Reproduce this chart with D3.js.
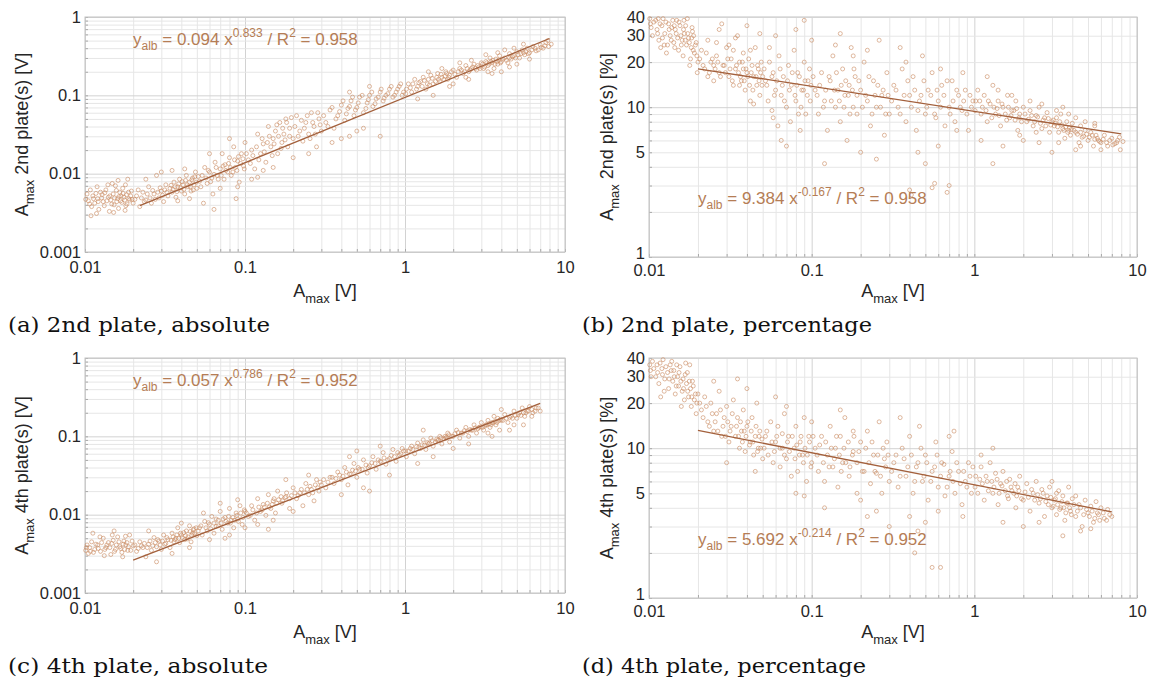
<!DOCTYPE html>
<html><head><meta charset="utf-8">
<script src="https://cdn.jsdelivr.net/npm/d3@7"></script>
<style>body{margin:0;background:#fff} svg{display:block} text{white-space:pre}</style>
</head><body>
<svg id="chart" width="1149" height="689"></svg>
<script>
// ---- tick values / labels ----
const xTicks = [0.01, 0.1, 1, 10];
const xTickLabels = ["0.01", "0.1", "1", "10"];
const yTicksAbs = [0.001, 0.01, 0.1, 1];
const yTickLabelsAbs = ["0.001", "0.01", "0.1", "1"];
const yTicksPct = [1, 5, 10, 20, 30, 40];
const yTickLabelsPct = ["1", "5", "10", "20", "30", "40"];

// ---- panel texts ----
const captions = ["(a) 2nd plate, absolute", "(b) 2nd plate, percentage", "(c) 4th plate, absolute", "(d) 4th plate, percentage"];
const yTitles = [" 2nd plate(s) [V]", " 2nd plate(s) [%]", " 4th plate(s) [V]", " 4th plate(s) [%]"];

// ---- fits (coefficient, exponent, R2, drawn x-range) ----
const fitA = [0.094, 0.833, 0.958, 0.022, 8];
const fitB = [9.384, -0.167, 0.958, 0.02, 8];
const fitC = [0.057, 0.786, 0.952, 0.02, 7];
const fitD = [5.692, -0.214, 0.952, 0.02, 7];

// ---- scatter points [Amax, value] ----
const pointsA = [
[0.0105,0.0045],[0.011,0.0038],[0.0112,0.0052],[0.0115,0.0042],[0.012,0.0048],[0.0122,0.0035],[0.0125,0.0058],[0.013,0.0044],[0.0132,0.0039],[0.0135,0.0062],[0.014,0.005],[0.0142,0.0033],[0.0145,0.0046],[0.015,0.0055],[0.0152,0.004],[0.0155,0.007],[0.016,0.0048],[0.0162,0.0036],[0.0165,0.0058],[0.017,0.0043],[0.0172,0.0065],[0.0175,0.005],[0.018,0.0039],[0.0182,0.0054],[0.0185,0.0085],[0.019,0.0046],[0.0195,0.006],[0.02,0.0042],[0.0108,0.0062],[0.0118,0.0031],[0.0128,0.0054],[0.0148,0.0075],[0.0158,0.0044],[0.0168,0.0052],[0.0178,0.0034],[0.0188,0.0048],
[0.0101,0.0047],[0.0103,0.0055],[0.0107,0.0041],[0.0113,0.0048],[0.0117,0.0056],[0.0121,0.0044],[0.0127,0.0049],[0.0133,0.0057],[0.0137,0.0045],[0.0143,0.0052],[0.0147,0.0041],[0.0153,0.0049],[0.0157,0.0061],[0.0163,0.0051],[0.0167,0.0045],[0.0173,0.0056],[0.0177,0.0046],[0.0183,0.0041],[0.0187,0.0058],[0.0193,0.0052],[0.0197,0.0047],[0.0119,0.0068],[0.0139,0.0072],[0.0161,0.0082],[0.0179,0.0072],[0.0109,0.0029],[0.0151,0.0032],
[0.021,0.0052],[0.022,0.0038],[0.023,0.0058],[0.024,0.0046],[0.025,0.0068],[0.026,0.0042],[0.027,0.0055],[0.028,0.0095],[0.029,0.0049],[0.03,0.006],[0.031,0.0044],[0.032,0.0072],[0.033,0.0052],[0.034,0.0065],[0.035,0.0058],[0.036,0.0078],[0.037,0.005],[0.038,0.0068],[0.039,0.0085],[0.04,0.006],[0.041,0.0072],[0.042,0.0055],[0.043,0.0095],[0.044,0.0068],[0.045,0.0078],[0.046,0.006],[0.047,0.0088],[0.048,0.0072],[0.049,0.0105],[0.05,0.0065],[0.024,0.0085],[0.03,0.0105],[0.035,0.011],[0.045,0.0048],
[0.0205,0.0047],[0.0215,0.0062],[0.0225,0.0049],[0.0235,0.0044],[0.0245,0.0055],[0.0255,0.0049],[0.0265,0.0061],[0.0275,0.0047],[0.0285,0.0058],[0.0295,0.0066],[0.0305,0.0053],[0.0315,0.0062],[0.0325,0.0058],[0.0345,0.0071],[0.0355,0.0063],[0.0365,0.0068],[0.0375,0.0059],[0.0385,0.0074],[0.0395,0.0066],[0.0405,0.0079],[0.0415,0.0063],[0.0425,0.0082],[0.0435,0.0072],[0.0455,0.0068],[0.0465,0.0083],[0.0475,0.0062],[0.0485,0.0091],[0.0495,0.0078],[0.038,0.0045],[0.042,0.0115],
[0.052,0.008],[0.054,0.0095],[0.055,0.0042],[0.056,0.012],[0.058,0.0075],[0.06,0.0105],[0.062,0.0088],[0.063,0.0055],[0.065,0.014],[0.067,0.0095],[0.07,0.0115],[0.072,0.018],[0.074,0.0085],[0.075,0.013],[0.078,0.0105],[0.08,0.016],[0.082,0.0095],[0.085,0.022],[0.087,0.012],[0.09,0.0145],[0.092,0.0078],[0.095,0.018],[0.098,0.0125],[0.1,0.025],[0.06,0.018],[0.07,0.0065],[0.08,0.028],[0.09,0.0068],
[0.051,0.0092],[0.053,0.0068],[0.057,0.0088],[0.059,0.011],[0.061,0.0079],[0.064,0.0098],[0.066,0.012],[0.068,0.0085],[0.071,0.0095],[0.073,0.0125],[0.076,0.011],[0.079,0.0135],[0.081,0.012],[0.084,0.0105],[0.086,0.015],[0.089,0.011],[0.091,0.0165],[0.094,0.0135],[0.097,0.0155],[0.099,0.0115],[0.064,0.0035],[0.088,0.0048],
[0.105,0.015],[0.11,0.02],[0.115,0.0115],[0.12,0.032],[0.125,0.018],[0.13,0.024],[0.135,0.014],[0.14,0.04],[0.145,0.022],[0.15,0.028],[0.155,0.035],[0.16,0.018],[0.165,0.045],[0.17,0.025],[0.175,0.032],[0.18,0.05],[0.185,0.022],[0.19,0.038],[0.2,0.028],[0.21,0.055],[0.22,0.035],[0.23,0.026],[0.24,0.045],[0.25,0.032],[0.26,0.06],[0.27,0.04],[0.28,0.022],[0.29,0.05],[0.3,0.035],[0.12,0.009],[0.15,0.012],[0.2,0.016],[0.25,0.018],
[0.102,0.018],[0.108,0.0135],[0.112,0.017],[0.118,0.022],[0.122,0.015],[0.128,0.028],[0.132,0.019],[0.138,0.025],[0.142,0.03],[0.148,0.017],[0.152,0.024],[0.158,0.042],[0.162,0.03],[0.168,0.021],[0.172,0.038],[0.178,0.027],[0.182,0.045],[0.19,0.03],[0.195,0.052],[0.205,0.04],[0.215,0.03],[0.225,0.048],[0.235,0.038],[0.245,0.055],[0.255,0.028],[0.265,0.045],[0.275,0.032],[0.285,0.06],[0.295,0.042],[0.11,0.0085],[0.13,0.011],
[0.32,0.045],[0.34,0.065],[0.36,0.038],[0.38,0.055],[0.4,0.075],[0.42,0.048],[0.44,0.068],[0.46,0.085],[0.48,0.055],[0.5,0.07],[0.52,0.095],[0.55,0.06],[0.58,0.08],[0.6,0.1],[0.63,0.072],[0.66,0.09],[0.7,0.11],[0.73,0.085],[0.76,0.1],[0.8,0.12],[0.84,0.095],[0.88,0.11],[0.92,0.13],[0.96,0.1],[0.4,0.028],[0.5,0.035],[0.45,0.11],[0.6,0.13],[0.7,0.03],
[0.31,0.055],[0.33,0.04],[0.35,0.07],[0.37,0.05],[0.39,0.062],[0.41,0.085],[0.43,0.058],[0.45,0.072],[0.47,0.095],[0.49,0.065],[0.51,0.08],[0.54,0.1],[0.57,0.068],[0.59,0.088],[0.62,0.11],[0.65,0.078],[0.68,0.095],[0.71,0.12],[0.74,0.092],[0.78,0.105],[0.82,0.13],[0.86,0.1],[0.9,0.12],[0.94,0.14],[0.98,0.11],[0.35,0.025],[0.45,0.03],[0.55,0.038],
[1.02,0.12],[1.05,0.14],[1.1,0.11],[1.15,0.16],[1.2,0.13],[1.25,0.15],[1.3,0.17],[1.35,0.12],[1.4,0.16],[1.45,0.18],[1.5,0.14],[1.6,0.19],[1.65,0.15],[1.7,0.17],[1.8,0.2],[1.85,0.16],[1.9,0.18],[2.0,0.21],[2.1,0.17],[2.2,0.22],[2.3,0.19],[2.4,0.24],[2.5,0.2],[2.6,0.22],[2.7,0.25],[2.8,0.21],[2.9,0.23],[3.0,0.26],[1.2,0.09],[1.5,0.1],[2.0,0.14],[2.5,0.16],
[1.01,0.105],[1.08,0.125],[1.12,0.14],[1.18,0.12],[1.22,0.145],[1.28,0.13],[1.32,0.155],[1.38,0.14],[1.42,0.135],[1.48,0.165],[1.55,0.15],[1.58,0.17],[1.62,0.16],[1.68,0.185],[1.75,0.16],[1.78,0.175],[1.82,0.19],[1.88,0.17],[1.95,0.2],[2.05,0.185],[2.15,0.2],[2.25,0.21],[2.35,0.2],[2.45,0.22],[2.55,0.21],[2.65,0.23],[2.75,0.22],[2.85,0.24],[2.95,0.22],[1.4,0.2],[1.7,0.22],[2.2,0.26],[2.6,0.28],[1.9,0.13],[2.4,0.17],
[3.1,0.22],[3.2,0.27],[3.3,0.24],[3.4,0.3],[3.5,0.26],[3.6,0.22],[3.7,0.29],[3.8,0.25],[3.9,0.32],[4.0,0.27],[4.2,0.3],[4.4,0.26],[4.5,0.34],[4.6,0.29],[4.8,0.32],[5.0,0.36],[5.2,0.3],[5.4,0.38],[5.6,0.33],[5.8,0.4],[6.0,0.35],[6.3,0.42],[6.6,0.37],[7.0,0.44],[7.3,0.4],[7.6,0.47],[7.9,0.42],[8.2,0.45],[3.5,0.19],[4.0,0.2],[5.0,0.25],
[3.05,0.25],[3.15,0.23],[3.25,0.26],[3.35,0.25],[3.45,0.27],[3.55,0.28],[3.65,0.25],[3.75,0.27],[3.85,0.28],[3.95,0.26],[4.1,0.29],[4.3,0.28],[4.5,0.3],[4.7,0.31],[4.9,0.3],[5.1,0.33],[5.3,0.34],[5.5,0.35],[5.7,0.36],[5.9,0.34],[6.2,0.38],[6.5,0.4],[6.8,0.38],[7.1,0.41],[7.5,0.43],[3.2,0.33],[3.8,0.35],[4.2,0.38],[4.8,0.4],[5.5,0.45],[3.3,0.2],[4.5,0.23],[6.0,0.29],[7.8,0.5]
];
const pointsB = [
[0.0102,36],[0.0105,30],[0.011,38],[0.0112,33],[0.0115,28],[0.012,35],[0.0122,39],[0.0125,31],[0.013,26],[0.0132,36],[0.0135,30],[0.014,38],[0.0142,27],[0.0145,33],[0.015,29],[0.0152,24],[0.0155,35],[0.016,28],[0.0162,22],[0.0165,31],[0.017,26],[0.0172,39],[0.0175,29],[0.018,21],[0.0182,25],[0.0185,32],[0.019,23],[0.0195,27],[0.02,20],[0.0118,25],[0.0128,23],[0.0138,34],[0.0148,38],[0.0158,26],[0.0168,35],[0.0178,19],[0.0188,30],[0.0198,17],
[0.0101,39],[0.0103,34],[0.0107,37],[0.0113,31],[0.0117,36],[0.0121,29],[0.0127,37],[0.0133,33],[0.0137,28],[0.0143,35],[0.0147,31],[0.0153,37],[0.0157,30],[0.0163,33],[0.0167,28],[0.0173,31],[0.0177,27],[0.0183,29],[0.0187,24],[0.0193,26],[0.0197,22],[0.0114,39],[0.0124,26],[0.0144,25],[0.0164,38],[0.0184,34],
[0.021,24],[0.022,18],[0.023,28],[0.024,20],[0.025,15],[0.026,22],[0.027,17],[0.028,36],[0.029,19],[0.03,25],[0.031,16],[0.032,21],[0.033,14],[0.034,18],[0.035,30],[0.036,20],[0.037,15],[0.038,23],[0.039,13],[0.04,17],[0.041,21],[0.042,11],[0.043,19],[0.044,16],[0.045,25],[0.046,14],[0.047,18],[0.048,12],[0.049,20],[0.05,16],[0.023,16],[0.027,33],[0.031,26],[0.036,14],[0.04,35],[0.044,10.5],[0.048,31],[0.025,19],[0.033,24],[0.038,18],
[0.0205,21],[0.0215,19],[0.0225,23],[0.0235,17],[0.0245,21],[0.0255,18],[0.0265,20],[0.0275,16],[0.0285,19],[0.0295,17],[0.0305,21],[0.0315,18],[0.0325,15],[0.0345,19],[0.0355,17],[0.0365,16],[0.0375,20],[0.0385,15],[0.0395,18],[0.0405,16],[0.0415,14],[0.0425,17],[0.0435,13],[0.0455,16],[0.0465,19],[0.0475,15],[0.0485,17],[0.0495,14],[0.026,27],[0.034,29],[0.042,24],
[0.052,15],[0.054,11],[0.055,20],[0.057,9.5],[0.058,17],[0.06,13],[0.062,7.5],[0.063,22],[0.065,12],[0.067,16],[0.07,10],[0.072,19],[0.074,8],[0.075,14],[0.078,24],[0.08,11],[0.082,17],[0.085,7],[0.087,13],[0.09,20],[0.092,9],[0.095,15],[0.098,11],[0.1,28],[0.06,30],[0.07,5.5],[0.08,33],[0.09,38],[0.055,25],[0.065,6],
[0.051,18],[0.053,14],[0.057,16],[0.059,12],[0.061,15],[0.064,18],[0.066,14],[0.068,11],[0.071,15],[0.073,13],[0.076,17],[0.079,12],[0.081,14],[0.084,16],[0.086,10],[0.089,13],[0.091,15],[0.094,12],[0.097,18],[0.099,14],[0.058,8.5],[0.083,9],
[0.105,13],[0.11,9],[0.115,17],[0.12,11],[0.125,7],[0.13,15],[0.135,22],[0.14,10],[0.145,13],[0.15,8],[0.155,18],[0.16,12],[0.165,6],[0.17,14],[0.175,25],[0.18,10],[0.185,16],[0.19,9],[0.2,13],[0.21,20],[0.22,11],[0.23,7.5],[0.24,15],[0.25,10],[0.26,28],[0.27,12],[0.28,6.5],[0.29,17],[0.3,9],[0.12,4.2],[0.15,31],[0.2,5],[0.25,4.5],[0.18,22],
[0.102,16],[0.108,12],[0.112,14],[0.118,10],[0.122,13],[0.128,16],[0.132,11],[0.138,13],[0.142,17],[0.148,11],[0.152,14],[0.158,10],[0.162,15],[0.168,12],[0.172,9],[0.178,13],[0.182,18],[0.19,12],[0.195,15],[0.205,10],[0.215,12],[0.225,16],[0.235,9],[0.245,12],[0.255,14],[0.265,10],[0.275,13],[0.285,9],[0.295,12],[0.14,26],[0.22,24],
[0.32,14],[0.34,10],[0.36,18],[0.38,8],[0.4,12],[0.42,16],[0.44,7],[0.46,11],[0.48,22],[0.5,9],[0.52,13],[0.55,17],[0.58,8.5],[0.6,11],[0.63,14],[0.66,7.5],[0.7,10],[0.73,15],[0.76,8],[0.8,12],[0.84,9.5],[0.88,13],[0.92,7],[0.96,10],[0.4,2.8],[0.41,2.6],[0.55,2.9],[0.57,3.1],[0.68,2.7],[0.7,3],[0.35,25],[0.45,5],[0.6,5.5],[0.85,17],[0.5,4.2],
[0.31,11],[0.33,13],[0.35,9],[0.37,12],[0.39,15],[0.41,10],[0.43,13],[0.45,9.5],[0.47,12],[0.49,15],[0.51,10],[0.54,12],[0.57,9],[0.59,13],[0.62,10],[0.65,12],[0.68,15],[0.71,9],[0.74,11],[0.78,13],[0.82,10],[0.86,11],[0.9,9],[0.94,12],[0.98,11],[0.38,20],[0.62,18],[0.78,7],
[1.02,11],[1.05,13],[1.1,9],[1.15,12],[1.2,8],[1.25,10.5],[1.3,14],[1.35,9],[1.4,11],[1.45,7.5],[1.5,10],[1.6,12],[1.65,8.5],[1.7,9.5],[1.8,11],[1.85,7],[1.9,9],[2.0,10],[2.1,8],[2.2,9.5],[2.3,7.5],[2.4,8.8],[2.5,10],[2.6,7.2],[2.7,8.5],[2.8,9.2],[2.9,6.8],[3.0,8],[1.3,4.2],[1.2,16],[1.1,6],[2.0,6],[1.5,5.5],[2.5,5.8],
[1.01,9.5],[1.08,11],[1.12,10],[1.18,9.5],[1.22,11],[1.28,8.5],[1.32,10],[1.38,9.8],[1.42,8.8],[1.48,10.5],[1.55,9],[1.58,8.2],[1.62,10],[1.68,8.8],[1.75,9.5],[1.78,8.2],[1.82,9.8],[1.88,8.5],[1.95,8],[2.05,9],[2.15,8.3],[2.25,8.8],[2.35,8],[2.45,8.6],[2.55,7.8],[2.65,8.2],[2.75,7.5],[2.85,8.4],[2.95,7.6],[1.4,13],[1.7,12],[2.2,11],[2.6,10.5],[1.9,6.5],[2.4,6.8],
[3.1,7.5],[3.2,8.5],[3.3,6.8],[3.4,9],[3.5,7.2],[3.6,6.2],[3.7,8],[3.8,7],[3.9,6.5],[4.0,7.8],[4.2,6.8],[4.4,5.8],[4.5,7.5],[4.6,6.3],[4.8,7],[5.0,6],[5.2,6.8],[5.4,5.5],[5.6,6.5],[5.8,6],[6.0,5.8],[6.3,6.5],[6.6,5.5],[7.0,6.2],[7.3,5.7],[7.6,6],[7.9,5.2],[8.2,5.9],[3.5,10],[4.2,5.2],[5.5,7.5],[3.0,5],
[3.05,8.2],[3.15,7.8],[3.25,7.4],[3.35,8],[3.45,7.6],[3.55,7],[3.65,7.4],[3.75,6.8],[3.85,7.3],[3.95,7.1],[4.1,7],[4.3,6.6],[4.5,6.8],[4.7,6.4],[4.9,6.6],[5.1,6.3],[5.3,6.5],[5.5,6.1],[5.7,6.2],[5.9,5.9],[6.2,6.1],[6.5,5.8],[6.8,6],[7.1,5.6],[7.5,5.8],[3.2,9.5],[3.8,9],[4.2,8.5],[4.8,8],[5.5,7.8],[3.3,5.8],[4.5,5.5],[6.0,5.2],[7.8,6.3]
];
const pointsC = [
[0.0102,0.0038],[0.0105,0.0032],[0.011,0.0045],[0.0115,0.0036],[0.012,0.0041],[0.0125,0.0034],[0.013,0.005],[0.0135,0.0038],[0.014,0.0044],[0.0145,0.0031],[0.015,0.0047],[0.0155,0.0036],[0.016,0.0052],[0.0165,0.0039],[0.017,0.0033],[0.0175,0.0046],[0.018,0.0041],[0.0185,0.0035],[0.019,0.0055],[0.02,0.004],[0.0112,0.0058],[0.0132,0.003],[0.0152,0.0062],[0.0172,0.0029],[0.0108,0.0034],
[0.0101,0.0035],[0.0103,0.0041],[0.0107,0.0038],[0.0113,0.0033],[0.0117,0.0042],[0.0121,0.0037],[0.0127,0.0044],[0.0133,0.0036],[0.0137,0.0041],[0.0143,0.0038],[0.0147,0.0043],[0.0153,0.0034],[0.0157,0.0041],[0.0163,0.0045],[0.0167,0.0037],[0.0173,0.0042],[0.0177,0.0036],[0.0183,0.0044],[0.0187,0.0039],[0.0193,0.0035],[0.0197,0.0046],[0.0124,0.0052],[0.0148,0.0055],[0.0179,0.0053],
[0.021,0.0034],[0.022,0.0045],[0.023,0.0038],[0.024,0.0029],[0.025,0.0042],[0.026,0.0035],[0.027,0.0051],[0.028,0.0039],[0.029,0.0046],[0.03,0.0036],[0.031,0.0055],[0.032,0.0043],[0.033,0.0048],[0.034,0.0038],[0.035,0.0058],[0.036,0.0045],[0.037,0.005],[0.038,0.0068],[0.039,0.0044],[0.04,0.0055],[0.042,0.0048],[0.043,0.0062],[0.044,0.0052],[0.045,0.0072],[0.046,0.0045],[0.047,0.0058],[0.048,0.0066],[0.05,0.0054],[0.025,0.0062],[0.035,0.0032],[0.04,0.0078],[0.028,0.0025],[0.045,0.0038],
[0.0205,0.0041],[0.0215,0.0037],[0.0225,0.004],[0.0235,0.0043],[0.0245,0.0038],[0.0255,0.0046],[0.0265,0.004],[0.0275,0.0044],[0.0285,0.0048],[0.0295,0.0041],[0.0305,0.0046],[0.0315,0.0042],[0.0325,0.0051],[0.0345,0.0047],[0.0355,0.0052],[0.0365,0.0048],[0.0375,0.0055],[0.0385,0.005],[0.0395,0.0058],[0.0405,0.0051],[0.0415,0.0059],[0.0425,0.0054],[0.0435,0.0049],[0.0455,0.0061],[0.0465,0.0055],[0.0475,0.0064],[0.0485,0.0057],[0.0495,0.0068],
[0.052,0.0068],[0.054,0.0055],[0.056,0.0082],[0.058,0.0062],[0.06,0.0075],[0.062,0.0095],[0.064,0.0058],[0.066,0.0088],[0.068,0.0072],[0.07,0.011],[0.072,0.0065],[0.075,0.0092],[0.078,0.0078],[0.08,0.012],[0.082,0.0085],[0.085,0.0068],[0.088,0.0105],[0.09,0.0088],[0.093,0.013],[0.096,0.0075],[0.1,0.011],[0.06,0.0048],[0.07,0.014],[0.08,0.0055],[0.09,0.0155],[0.055,0.0105],[0.075,0.005],[0.1,0.0068],
[0.051,0.0062],[0.053,0.0072],[0.057,0.0068],[0.059,0.0079],[0.061,0.0066],[0.064,0.0078],[0.066,0.0071],[0.068,0.0085],[0.071,0.0078],[0.073,0.0088],[0.076,0.0082],[0.079,0.0095],[0.081,0.0078],[0.084,0.0092],[0.086,0.0085],[0.089,0.0098],[0.091,0.0082],[0.094,0.0105],[0.097,0.0092],[0.099,0.0115],
[0.105,0.0095],[0.11,0.013],[0.115,0.0085],[0.12,0.016],[0.125,0.011],[0.13,0.0135],[0.135,0.0098],[0.14,0.018],[0.145,0.012],[0.15,0.015],[0.155,0.0105],[0.16,0.02],[0.17,0.014],[0.18,0.017],[0.19,0.012],[0.2,0.022],[0.21,0.016],[0.22,0.019],[0.23,0.013],[0.24,0.025],[0.25,0.018],[0.26,0.021],[0.27,0.015],[0.28,0.028],[0.29,0.02],[0.3,0.024],[0.12,0.0075],[0.15,0.0085],[0.2,0.011],[0.18,0.028],[0.25,0.032],[0.14,0.0065],
[0.102,0.0105],[0.108,0.0098],[0.112,0.0115],[0.118,0.0105],[0.122,0.0125],[0.128,0.0115],[0.132,0.0125],[0.138,0.014],[0.142,0.0125],[0.148,0.0135],[0.152,0.016],[0.158,0.014],[0.162,0.0155],[0.168,0.017],[0.172,0.015],[0.178,0.0165],[0.182,0.019],[0.19,0.016],[0.195,0.0175],[0.205,0.019],[0.215,0.0175],[0.225,0.021],[0.235,0.019],[0.245,0.021],[0.255,0.023],[0.265,0.019],[0.275,0.024],[0.285,0.022],[0.295,0.026],
[0.32,0.022],[0.34,0.03],[0.36,0.025],[0.38,0.035],[0.4,0.028],[0.42,0.04],[0.44,0.024],[0.46,0.033],[0.48,0.045],[0.5,0.03],[0.52,0.038],[0.55,0.05],[0.58,0.034],[0.6,0.042],[0.63,0.055],[0.66,0.038],[0.7,0.048],[0.73,0.062],[0.76,0.044],[0.8,0.052],[0.84,0.068],[0.88,0.048],[0.92,0.058],[0.96,0.07],[0.4,0.018],[0.5,0.065],[0.6,0.02],[0.7,0.075],[0.45,0.055],[0.55,0.022],[0.8,0.032],
[0.31,0.028],[0.33,0.026],[0.35,0.03],[0.37,0.029],[0.39,0.032],[0.41,0.031],[0.43,0.035],[0.45,0.033],[0.47,0.037],[0.49,0.036],[0.51,0.04],[0.54,0.038],[0.57,0.043],[0.59,0.04],[0.62,0.046],[0.65,0.045],[0.68,0.05],[0.71,0.047],[0.74,0.053],[0.78,0.05],[0.82,0.057],[0.86,0.055],[0.9,0.062],[0.94,0.06],[0.98,0.065],
[1.02,0.055],[1.05,0.065],[1.1,0.075],[1.15,0.06],[1.2,0.082],[1.25,0.07],[1.3,0.09],[1.35,0.068],[1.4,0.08],[1.45,0.095],[1.5,0.075],[1.6,0.088],[1.65,0.1],[1.7,0.08],[1.8,0.095],[1.85,0.11],[1.9,0.085],[2.0,0.1],[2.1,0.12],[2.2,0.095],[2.3,0.11],[2.4,0.13],[2.5,0.1],[2.6,0.12],[2.7,0.14],[2.8,0.11],[2.9,0.13],[3.0,0.15],[1.2,0.045],[1.5,0.055],[2.0,0.07],[1.3,0.12],[2.5,0.08],
[1.01,0.065],[1.08,0.07],[1.12,0.068],[1.18,0.074],[1.22,0.072],[1.28,0.078],[1.32,0.077],[1.38,0.083],[1.42,0.082],[1.48,0.088],[1.55,0.085],[1.58,0.092],[1.62,0.09],[1.68,0.096],[1.75,0.093],[1.78,0.1],[1.82,0.098],[1.88,0.105],[1.95,0.1],[2.05,0.108],[2.15,0.112],[2.25,0.11],[2.35,0.118],[2.45,0.115],[2.55,0.122],[2.65,0.12],[2.75,0.128],[2.85,0.125],[2.95,0.132],
[3.1,0.12],[3.2,0.14],[3.3,0.16],[3.4,0.13],[3.5,0.15],[3.6,0.18],[3.7,0.14],[3.8,0.17],[3.9,0.12],[4.0,0.16],[4.2,0.19],[4.4,0.15],[4.6,0.18],[4.8,0.21],[5.0,0.17],[5.2,0.2],[5.4,0.23],[5.6,0.18],[5.8,0.21],[6.0,0.24],[6.3,0.2],[6.6,0.23],[7.0,0.21],[3.5,0.1],[4.5,0.12],[5.5,0.14],[4.0,0.22],
[3.05,0.13],[3.15,0.135],[3.25,0.14],[3.35,0.145],[3.45,0.14],[3.55,0.148],[3.65,0.155],[3.75,0.15],[3.85,0.158],[3.95,0.165],[4.1,0.16],[4.3,0.17],[4.5,0.175],[4.7,0.17],[4.9,0.185],[5.1,0.19],[5.3,0.185],[5.5,0.2],[5.7,0.2],[5.9,0.21],[6.2,0.22],[6.5,0.21],[6.8,0.23],[3.3,0.11],[4.8,0.14],[6.2,0.18]
];
const pointsD = [
[0.0102,33],[0.0105,38],[0.011,30],[0.0112,36],[0.0115,27],[0.012,34],[0.0122,39],[0.0125,29],[0.013,32],[0.0132,25],[0.0135,36],[0.014,28],[0.0142,33],[0.0145,23],[0.015,30],[0.0152,26],[0.0155,35],[0.016,24],[0.0162,29],[0.0165,21],[0.017,27],[0.0172,32],[0.0175,22],[0.018,25],[0.0182,19],[0.0185,28],[0.019,21],[0.0195,17],[0.02,23],[0.0118,22],[0.0138,38],[0.0158,19],[0.0178,36],
[0.0101,36],[0.0103,30],[0.0107,34],[0.0113,32],[0.0117,37],[0.0121,31],[0.0127,35],[0.0133,29],[0.0137,33],[0.0143,30],[0.0147,26],[0.0153,32],[0.0157,28],[0.0163,25],[0.0167,31],[0.0173,24],[0.0177,28],[0.0183,22],[0.0187,26],[0.0193,23],[0.0197,20],[0.0124,24],[0.0148,36],[0.0168,37],
[0.021,18],[0.022,22],[0.023,15],[0.024,20],[0.025,13],[0.026,17],[0.027,24],[0.028,12],[0.029,16],[0.03,19],[0.031,11],[0.032,14],[0.033,21],[0.034,12],[0.035,16],[0.036,10],[0.037,13],[0.038,18],[0.039,9.5],[0.04,14],[0.042,11],[0.043,16],[0.044,9],[0.045,12],[0.046,20],[0.047,10],[0.048,13],[0.05,8.5],[0.025,28],[0.03,8],[0.04,25],[0.045,7],[0.035,29],
[0.0205,20],[0.0215,16],[0.0225,19],[0.0235,14],[0.0245,17],[0.0255,15],[0.0265,13],[0.0275,18],[0.0285,14],[0.0295,12],[0.0305,15],[0.0315,13],[0.0325,17],[0.0345,14],[0.0355,12],[0.0365,15],[0.0375,11],[0.0385,13],[0.0395,12],[0.0405,15],[0.0415,10.5],[0.0425,13],[0.0435,11],[0.0455,14],[0.0465,9.5],[0.0475,12],[0.0485,10],[0.0495,11.5],
[0.052,12],[0.054,9],[0.056,15],[0.058,8],[0.06,11],[0.062,14],[0.064,7.5],[0.066,10],[0.068,17],[0.07,8.5],[0.072,12],[0.075,6.5],[0.078,10],[0.08,14],[0.082,7],[0.085,11],[0.088,9],[0.09,16],[0.093,6],[0.096,12],[0.1,8],[0.06,22],[0.08,5],[0.07,19],[0.09,4.8],[0.1,15],
[0.051,10],[0.053,13],[0.057,11],[0.059,9.5],[0.061,12],[0.064,10],[0.066,12.5],[0.068,9],[0.071,11],[0.073,9.5],[0.076,12],[0.079,8.5],[0.081,10.5],[0.084,9],[0.086,12],[0.089,8],[0.091,10],[0.094,9],[0.097,11],[0.099,7.5],
[0.105,10],[0.11,7],[0.115,12],[0.12,6],[0.125,9],[0.13,14],[0.135,7.5],[0.14,10],[0.145,5.5],[0.15,12],[0.155,8],[0.16,16],[0.17,6.5],[0.18,9.5],[0.19,5],[0.2,11],[0.21,7],[0.22,13],[0.23,5.8],[0.24,9],[0.25,6.8],[0.26,15],[0.27,5],[0.28,8.5],[0.29,11],[0.3,6],[0.12,4],[0.15,18],[0.2,4.5],[0.25,3.8],[0.18,13],[0.22,3.5],
[0.102,12],[0.108,9],[0.112,10.5],[0.118,8],[0.122,11],[0.128,7.5],[0.132,10],[0.138,8.5],[0.142,12],[0.148,9],[0.152,7],[0.158,10],[0.162,8],[0.168,11],[0.172,7.5],[0.178,9],[0.182,12],[0.19,8],[0.195,9.5],[0.205,7],[0.215,10],[0.225,8],[0.235,11],[0.245,7],[0.255,9],[0.265,6.5],[0.275,10],[0.285,7.5],[0.295,9],
[0.32,8],[0.34,5.5],[0.36,10],[0.38,6.5],[0.4,12],[0.42,5],[0.44,7.5],[0.46,14],[0.48,6],[0.5,9],[0.52,4.5],[0.55,7],[0.58,11],[0.6,5.5],[0.63,8],[0.66,4.8],[0.7,6.5],[0.73,9.5],[0.76,5],[0.8,7],[0.84,4.2],[0.88,6],[0.92,8],[0.96,5],[0.4,3.5],[0.5,3.2],[0.6,3.8],[0.45,2.8],[0.55,1.6],[0.35,16],[0.7,12],[0.85,3.5],[0.3,3],
[0.31,7],[0.33,9],[0.35,6.5],[0.37,8.5],[0.39,7.5],[0.41,9],[0.43,6],[0.45,8],[0.47,10],[0.49,6.5],[0.51,8],[0.54,6],[0.57,7.5],[0.59,9],[0.62,6.5],[0.65,7.8],[0.68,5.5],[0.71,7],[0.74,6],[0.78,8],[0.82,5.8],[0.86,7],[0.9,5.5],[0.94,6.5],[0.98,7.5],[0.62,1.6],[0.43,2],[0.75,13],
[1.02,6.5],[1.05,5],[1.1,7.5],[1.15,4.5],[1.2,6],[1.25,8],[1.3,5],[1.35,6.8],[1.4,4.2],[1.45,5.8],[1.5,7],[1.6,4.8],[1.65,6.2],[1.7,5.2],[1.8,4],[1.85,5.5],[1.9,6.5],[2.0,4.5],[2.1,5.8],[2.2,3.8],[2.3,5],[2.4,6],[2.5,4.3],[2.6,5.3],[2.7,3.5],[2.8,4.8],[2.9,5.5],[3.0,4],[1.3,10],[1.5,3.2],[2.0,3],[2.5,3.2],[1.1,9],
[1.01,5.5],[1.08,6.2],[1.12,5.8],[1.18,6.5],[1.22,5.2],[1.28,6],[1.32,5.5],[1.38,6.2],[1.42,5],[1.48,5.6],[1.55,5.2],[1.58,6],[1.62,4.6],[1.68,5.5],[1.75,5],[1.78,5.8],[1.82,4.8],[1.88,5.2],[1.95,4.6],[2.05,5.1],[2.15,4.7],[2.25,5.3],[2.35,4.5],[2.45,4.9],[2.55,4.6],[2.65,5],[2.75,4.4],[2.85,4.2],[2.95,4.7],
[3.1,4.5],[3.2,3.6],[3.3,5.2],[3.4,4],[3.5,4.8],[3.6,3.3],[3.7,4.3],[3.8,5.5],[3.9,3.8],[4.0,4.6],[4.2,3.5],[4.4,4.2],[4.6,3],[4.8,4.5],[5.0,3.7],[5.2,4.1],[5.4,3.2],[5.6,4.4],[5.8,3.6],[6.0,4],[6.3,3.4],[6.6,3.9],[7.0,3.5],[3.5,2.6],[4.5,2.8],[3.0,6],
[3.05,4.1],[3.15,4.6],[3.25,4.2],[3.35,3.9],[3.45,4.4],[3.55,4],[3.65,3.7],[3.75,4.3],[3.85,4],[3.95,3.6],[4.1,4.2],[4.3,3.8],[4.5,4],[4.7,3.6],[4.9,3.9],[5.1,3.5],[5.3,3.8],[5.5,3.4],[5.7,3.7],[5.9,3.3],[6.2,3.7],[6.5,3.3],[6.8,3.6],[3.2,5],[4.2,4.8],[5.2,2.9]
];

// ---- layout ----
const W = 1149, H = 689;
const svg = d3.select("#chart");
svg.append("rect").attr("width", W).attr("height", H).attr("fill", "#fff");

const FONT = "'Liberation Sans', Arial, Helvetica, sans-serif";
const SERIF = "'DejaVu Serif', 'Liberation Serif', serif";
const PT_COLOR = "#c98a60";
const FIT_COLOR = "#a3603c";
const ANN_COLOR = "#b57d55";
const TXT = "#262626";

const rowOff = 341;
const capWidths = [262, 290, 260, 284];
const panels = [
  {pts: pointsA, fit: fitA, yDom: [0.001, 1], yTicks: yTicksAbs, yLab: yTickLabelsAbs, L: 85, R: 565, T: 17, B: 252, ann: [133, 45], unit: 0},
  {pts: pointsB, fit: fitB, yDom: [1, 40], yTicks: yTicksPct, yLab: yTickLabelsPct, L: 649, R: 1137, T: 17, B: 257, ann: [698, 204], unit: 1},
  {pts: pointsC, fit: fitC, yDom: [0.001, 1], yTicks: yTicksAbs, yLab: yTickLabelsAbs, L: 85, R: 565, T: 17 + rowOff, B: 252 + rowOff, ann: [133, 45 + rowOff], unit: 0},
  {pts: pointsD, fit: fitD, yDom: [1, 40], yTicks: yTicksPct, yLab: yTickLabelsPct, L: 649, R: 1137, T: 17 + rowOff, B: 257 + rowOff, ann: [698, 204 + rowOff], unit: 1}
];

function minorTicks(lo, hi) {
  const out = [];
  for (let e = Math.floor(Math.log10(lo)); e <= Math.ceil(Math.log10(hi)); e++) {
    for (let m = 1; m <= 9; m++) {
      const v = +(m * Math.pow(10, e)).toPrecision(6);
      if (v >= lo * 0.9999 && v <= hi * 1.0001) out.push(v);
    }
  }
  return out;
}

panels.forEach((p, i) => {
  const g = svg.append("g");
  const x = d3.scaleLog().domain([0.01, 10]).range([p.L, p.R]);
  const y = d3.scaleLog().domain(p.yDom).range([p.B, p.T]);
  const xMinor = minorTicks(0.01, 10);
  const yMinor = minorTicks(p.yDom[0], p.yDom[1]);

  // grid (minor + major)
  const gx = g.append("g").attr("transform", `translate(0,${p.B})`)
    .call(d3.axisBottom(x).tickValues(xMinor).tickSize(-(p.B - p.T)).tickFormat(""));
  gx.select(".domain").remove();
  gx.selectAll("line").attr("stroke", d => xTicks.includes(d) ? "#d2d2d2" : "#e6e6e6").attr("stroke-width", 1);
  const gy = g.append("g").attr("transform", `translate(${p.L},0)`)
    .call(d3.axisLeft(y).tickValues(yMinor).tickSize(-(p.R - p.L)).tickFormat(""));
  gy.select(".domain").remove();
  gy.selectAll("line").attr("stroke", d => (p.unit === 0 ? p.yTicks.includes(d) : [1, 10].includes(d)) ? "#d2d2d2" : "#e6e6e6").attr("stroke-width", 1);

  // small inner tick marks
  const tb = g.append("g").attr("transform", `translate(0,${p.B})`)
    .call(d3.axisTop(x).tickValues(xMinor).tickSize(3).tickFormat(""));
  tb.select(".domain").remove();
  tb.selectAll("line").attr("stroke", "#a8a8a8");
  const tl = g.append("g").attr("transform", `translate(${p.L},0)`)
    .call(d3.axisRight(y).tickValues(yMinor).tickSize(3).tickFormat(""));
  tl.select(".domain").remove();
  tl.selectAll("line").attr("stroke", "#a8a8a8");

  // box
  g.append("rect").attr("x", p.L).attr("y", p.T).attr("width", p.R - p.L).attr("height", p.B - p.T)
    .attr("fill", "none").attr("stroke", "#c4c4c4").attr("stroke-width", 1);

  // tick labels
  const lx = g.append("g").attr("transform", `translate(0,${p.B})`)
    .call(d3.axisBottom(x).tickValues(xTicks).tickSize(0).tickPadding(p.unit ? 7 : 9).tickFormat((d, k) => xTickLabels[k]));
  lx.select(".domain").remove();
  lx.selectAll("text").attr("font-family", FONT).attr("font-size", 16.5).attr("fill", TXT);
  const ly = g.append("g").attr("transform", `translate(${p.L},0)`)
    .call(d3.axisLeft(y).tickValues(p.yTicks).tickSize(0).tickPadding(4).tickFormat((d, k) => p.yLab[k]));
  ly.select(".domain").remove();
  ly.selectAll("text").attr("font-family", FONT).attr("font-size", 16.5).attr("fill", TXT)
    .attr("transform", d => (p.unit === 1 && d === 1) ? "translate(0,-4)" : null);

  // points
  g.append("g").selectAll("circle").data(p.pts).join("circle")
    .attr("cx", d => x(d[0])).attr("cy", d => y(d[1])).attr("r", 2)
    .attr("fill", "none").attr("stroke", PT_COLOR).attr("stroke-width", 0.75).attr("stroke-opacity", 0.8);

  // fit line
  const [a, b, r2, x0, x1] = p.fit;
  const fitPts = [x0, x1].map(v => [v, a * Math.pow(v, b)]);
  g.append("path").datum(fitPts)
    .attr("d", d3.line().x(d => x(d[0])).y(d => y(d[1])))
    .attr("stroke", FIT_COLOR).attr("stroke-width", 1.3).attr("fill", "none");

  // annotation
  const t = g.append("text").attr("x", p.ann[0]).attr("y", p.ann[1])
    .attr("font-family", FONT).attr("font-size", 17).attr("fill", ANN_COLOR);
  t.append("tspan").text("y");
  t.append("tspan").attr("font-size", 12).attr("dy", 5).text("alb");
  t.append("tspan").attr("dy", -5).text(` = ${a.toFixed(3)} x`);
  t.append("tspan").attr("font-size", 12).attr("dy", -8).text(b.toFixed(3));
  t.append("tspan").attr("dy", 8).text(" / R");
  t.append("tspan").attr("font-size", 12).attr("dy", -8).text("2");
  t.append("tspan").attr("dy", 8).text(` = ${r2.toFixed(3)}`);

  // x title
  const xc = (p.L + p.R) / 2;
  const xt = g.append("text").attr("x", xc).attr("y", p.B + (p.unit ? 40 : 45)).attr("text-anchor", "middle")
    .attr("font-family", FONT).attr("font-size", 18).attr("fill", TXT);
  xt.append("tspan").text("A");
  xt.append("tspan").attr("font-size", 13).attr("dy", 6).text("max");
  xt.append("tspan").attr("dy", -6).text(" [V]");

  // y title
  const yx = p.unit ? p.L - 36 : p.L - 57;
  const yc = (p.T + p.B) / 2;
  const yt = g.append("text").attr("transform", `translate(${yx},${yc}) rotate(-90)`).attr("text-anchor", "middle")
    .attr("font-family", FONT).attr("font-size", 18).attr("fill", TXT);
  yt.append("tspan").text("A");
  yt.append("tspan").attr("font-size", 13).attr("dy", 6).text("max");
  yt.append("tspan").attr("dy", -6).text(yTitles[i]);

  // caption
  const cx = i % 2 === 0 ? 8 : 582;
  svg.append("text").attr("x", cx).attr("y", 332 + (i > 1 ? rowOff : 0))
    .attr("font-family", SERIF).attr("font-size", 21).attr("fill", "#111")
    .attr("textLength", capWidths[i]).attr("lengthAdjust", "spacingAndGlyphs").text(captions[i]);
});
</script>
</body></html>
